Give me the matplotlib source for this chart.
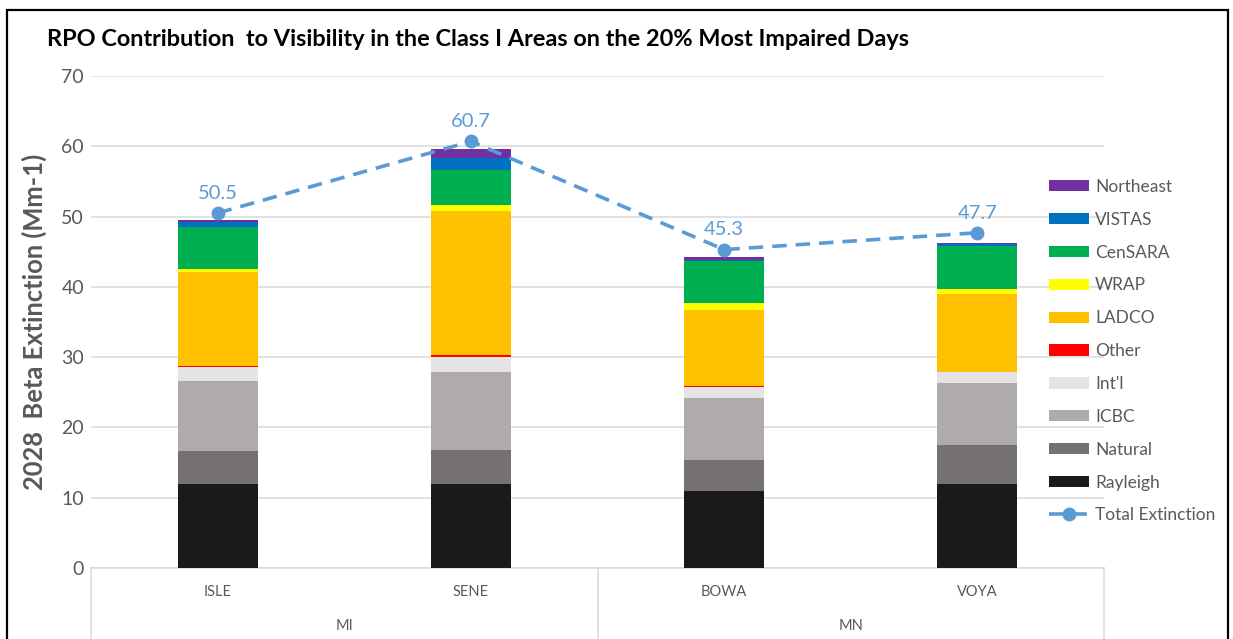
import matplotlib
matplotlib.use("Agg")
import matplotlib.pyplot as plt
from matplotlib.patches import Patch, Rectangle
from matplotlib.lines import Line2D
import numpy as np

plt.rcParams['font.family'] = ['Lato', 'DejaVu Sans']

# ---- data ----
sites = ["ISLE", "SENE", "BOWA", "VOYA"]
states = ["MI", "MN"]
sources = ["Rayleigh", "Natural", "ICBC", "Int'l", "Other",
           "LADCO", "WRAP", "CenSARA", "VISTAS", "Northeast"]
rayleigh  = [12.0, 12.0, 10.9, 12.0]
natural   = [4.6, 4.8, 4.5, 5.45]
icbc      = [10.0, 11.05, 8.85, 8.9]
intl      = [2.05, 2.2, 1.55, 1.5]
other     = [0.05, 0.25, 0.05, 0.05]
ladco     = [13.35, 20.5, 10.9, 11.15]
wrap      = [0.5, 0.85, 0.95, 0.65]
censara   = [6.0, 5.0, 6.0, 6.05]
vistas    = [0.7, 1.65, 0.1, 0.35]
northeast = [0.3, 1.3, 0.4, 0.15]
total_extinction = [50.5, 60.7, 45.3, 47.7]

series = [rayleigh, natural, icbc, intl, other, ladco, wrap, censara, vistas, northeast]
colors = ["#1a1a1a", "#767171", "#afabab", "#e4e4e4", "#ff0000",
          "#ffc000", "#ffff00", "#00b050", "#0070c0", "#7030a0"]
line_color = "#5b9bd5"
text_gray = "#595959"

W, H = 1233, 639
fig = plt.figure(figsize=(W / 100, H / 100), dpi=100)

# outer frame
fig.patches.append(Rectangle((7 / W, -0.05), (1228 - 7) / W, 1.05 - 10 / H,
                             transform=fig.transFigure, fill=False,
                             edgecolor="black", linewidth=1.6))

x0, x1, ytop, ybot = 91, 1104, 76, 568
ax = fig.add_axes([x0 / W, (H - ybot) / H, (x1 - x0) / W, (ybot - ytop) / H])
ax.set_xlim(-0.5, 3.5)
ax.set_ylim(0, 70)

x = np.arange(len(sites))
bottom = np.zeros(len(sites))
for name, vals, c in zip(sources, series, colors):
    ax.bar(x, vals, bottom=bottom, width=0.316, color=c, label=name, zorder=3)
    bottom += np.array(vals)

ax.plot(x, total_extinction, color=line_color, linestyle=(0, (4, 2.5)),
        linewidth=2.6, marker="o", markersize=9, zorder=4, label="Total Extinction")
for xi, v in zip(x, total_extinction):
    ax.annotate(f"{v:.1f}", (xi, v), xytext=(0, 8), textcoords="offset points",
                ha="center", va="bottom", color=line_color, fontsize=14.5)

ax.set_yticks(range(0, 71, 10))
ax.yaxis.grid(True, color="#d9d9d9", linewidth=1.1, zorder=0)
ax.set_axisbelow(True)
for s in ["top", "right", "left"]:
    ax.spines[s].set_visible(False)
ax.spines["bottom"].set_color("#d9d9d9")
ax.spines["bottom"].set_linewidth(1.1)
ax.tick_params(axis="y", length=0, labelsize=14, labelcolor=text_gray, pad=5)
ax.tick_params(axis="x", length=0, labelbottom=False)

# two-level category axis
for xi, s in zip(x, sites):
    ax.text(xi, -3.4, s, ha="center", va="center", fontsize=10.5, color=text_gray)
for gi, g in enumerate(states):
    ax.text(gi * 2 + 0.5, -8.3, g, ha="center", va="center", fontsize=10.5, color=text_gray)
for xs in [-0.5, 1.5, 3.5]:
    ax.add_line(Line2D([xs, xs], [0, -12], color="#d9d9d9", linewidth=1.1, clip_on=False))

ax.set_ylabel("2028  Beta Extinction (Mm-1)", fontsize=18.4, fontweight="bold",
              color=text_gray, labelpad=10)

fig.text(47 / W, 1 - 39 / H, "RPO Contribution  to Visibility in the Class I Areas on the 20% Most Impaired Days",
         fontsize=16.9, fontweight="bold", color="black", va="center", ha="left")

handles = [Patch(facecolor=c, edgecolor="none") for c in colors][::-1]
labels = sources[::-1]
handles.append(Line2D([], [], color=line_color, linestyle=(0, (4, 2.5)), linewidth=2.6,
                      marker="o", markersize=9))
labels.append("Total Extinction")
fig.legend(handles, labels, loc="upper left", bbox_to_anchor=(1042 / W, 1 - 172 / H),
           frameon=False, fontsize=12.5, labelcolor=text_gray, handlelength=2.3,
           handleheight=0.62, handletextpad=0.35, labelspacing=0.97, borderaxespad=0)

fig.savefig("out.png", dpi=100)
